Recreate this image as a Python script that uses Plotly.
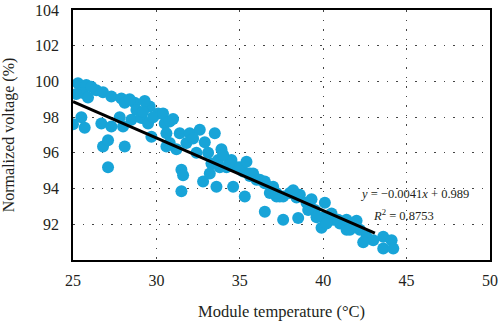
import plotly.graph_objects as go

# Scatter data: module temperature (°C) vs normalized voltage (%)
temp = [
    25.3, 25.8, 26.4, 26.8, 25.6, 25.2, 26.1, 25.9,
    25.0, 25.5, 25.7, 26.7, 27.3, 26.8, 27.1, 27.1,
    27.3, 27.9, 28.1, 28.7, 28.8, 29.6, 30.1, 27.8, 28.5, 29.1, 29.5, 29.7, 28.0, 28.1, 29.8, 29.2, 28.4, 29.3,
    30.5, 30.6, 30.4, 30.8, 30.6, 31.2, 31.4, 32.0, 32.6, 33.5, 31.8, 30.8, 32.4, 33.1, 33.9, 31.5, 31.6, 31.5, 32.8, 31.0, 32.2, 32.9,
    33.3, 33.7, 34.5, 34.8, 35.2, 35.6, 36.0, 33.6, 34.6, 35.3, 33.2, 34.2, 34.4, 35.0, 35.6, 33.8, 34.0, 35.4,
    35.8, 36.2, 36.5, 36.5, 37.0, 37.4, 38.0, 38.6, 39.0, 39.5, 40.1, 40.0, 39.9, 36.5, 37.6, 38.5, 36.8, 37.2, 38.4, 39.1, 39.6, 37.6, 37.2, 38.2, 39.3,
    40.6, 41.0, 41.4, 40.2, 40.9, 41.4, 41.8, 42.2, 42.6, 43.0, 42.4, 43.6, 44.1, 43.6, 44.2, 41.6, 40.5, 42.0,
]
voltage = [
    99.9, 99.8, 99.5, 99.4, 99.35, 99.3, 99.7, 99.1,
    97.6, 98.0, 97.4, 97.65, 97.47, 96.35, 96.7, 95.2,
    99.15, 99.05, 98.8, 98.8, 98.4, 98.6, 98.2, 98.0, 97.85, 97.95, 97.65, 96.9, 97.47, 96.35, 98.0, 98.3, 99.0, 98.9,
    97.65, 96.35, 98.2, 97.75, 97.1, 96.2, 97.1, 97.1, 97.3, 97.1, 96.55, 96.55, 96.0, 96.0, 96.2, 95.05, 94.75, 93.85, 94.4, 97.9, 96.8, 96.6,
    95.4, 95.6, 95.6, 95.2, 94.95, 94.7, 94.5, 94.1, 94.1, 93.55, 94.85, 95.2, 95.5, 95.2, 94.85, 95.2, 95.9, 95.5,
    94.85, 94.5, 94.4, 94.3, 94.1, 93.55, 93.75, 93.65, 93.2, 92.8, 93.2, 92.4, 91.8, 92.7, 92.25, 92.35, 93.75, 93.55, 93.5, 92.8, 92.4, 93.55, 93.75, 93.9, 93.4,
    92.25, 92.05, 91.7, 92.05, 92.25, 92.25, 91.95, 91.7, 91.3, 91.1, 91.0, 91.3, 91.1, 90.65, 90.65, 91.7, 92.6, 92.2,
]

# Trend line endpoints
trend_x = [25.0, 43.1]
trend_y = [98.87, 91.5]

x_ticks = [25, 30, 35, 40, 45, 50]
y_ticks = [92, 94, 96, 98, 100, 102, 104]

font_family = "Times New Roman, Liberation Serif, serif"
text_color = "#231f20"

fig = go.Figure()
fig.add_trace(go.Scatter(
    x=temp, y=voltage, mode="markers",
    marker=dict(color="#18A4D8", size=12, line=dict(width=0)),
    showlegend=False, cliponaxis=True,
))
fig.add_trace(go.Scatter(
    x=trend_x, y=trend_y, mode="lines",
    line=dict(color="black", width=3), showlegend=False,
))

fig.add_annotation(x=45.5, y=93.7, xref="x", yref="y", showarrow=False,
                   text="<i>y</i> = −0.0041<i>x</i> + 0.989",
                   font=dict(family=font_family, size=12.5, color=text_color))
fig.add_annotation(x=44.8, y=92.52, xref="x", yref="y", showarrow=False,
                   text="<i>R</i><sup>2</sup> = 0.8753",
                   font=dict(family=font_family, size=12.5, color=text_color))

fig.update_layout(
    width=500, height=321,
    margin=dict(l=73, r=10, t=10, b=61),
    paper_bgcolor="white", plot_bgcolor="white",
    font=dict(family=font_family, size=16, color=text_color),
)
fig.update_xaxes(
    range=[25, 50], tickvals=x_ticks, ticks="", automargin=False,
    tickfont=dict(family=font_family, size=16, color=text_color),
    ticklabelstandoff=5,
    showline=True, linecolor="black", linewidth=1.5, mirror=True,
    showgrid=True, gridcolor="#444444", gridwidth=1.3, griddash="1.5px,8px",
    zeroline=False,
    title=dict(text="Module temperature (°C)", standoff=20,
               font=dict(family=font_family, size=16.5, color=text_color)),
)
fig.update_yaxes(
    range=[90, 104], tickvals=y_ticks, ticks="", automargin=False,
    tickfont=dict(family=font_family, size=16, color=text_color),
    ticklabelstandoff=9,
    showline=True, linecolor="black", linewidth=1.5, mirror=True,
    showgrid=True, gridcolor="#444444", gridwidth=1.3, griddash="1.5px,8px",
    zeroline=False,
    title=dict(text="Normalized voltage (%)", standoff=18,
               font=dict(family=font_family, size=16, color=text_color)),
)

fig.write_html("out.html")
